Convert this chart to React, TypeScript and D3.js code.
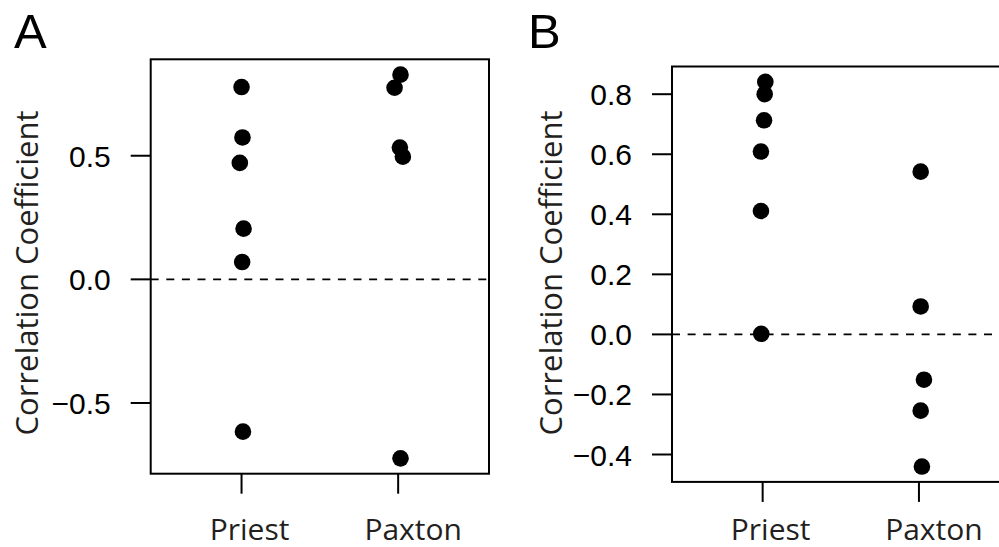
import React from "react";
import * as d3 from "d3";

const categories = ["Priest", "Paxton"];

// Panel A: correlation coefficients, x in category units (jittered as in the original)
const priestA = [0.778, 0.574, 0.471, 0.205, 0.07, -0.616];
const priestAX = [1.0, 1.006, 0.989, 1.013, 1.004, 1.009];
const paxtonA = [0.828, 0.775, 0.533, 0.496, -0.724];
const paxtonAX = [2.015, 1.977, 2.011, 2.03, 2.015];

// Panel B
const priestB = [0.841, 0.8, 0.713, 0.609, 0.411, 0.002];
const priestBX = [1.017, 1.013, 1.009, 0.989, 0.989, 0.991];
const paxtonB = [0.542, 0.093, -0.151, -0.254, -0.44];
const paxtonBX = [2.011, 2.011, 2.032, 2.011, 2.019];

const ticksA = [-0.5, 0, 0.5];
const ticksB = [-0.4, -0.2, 0, 0.2, 0.4, 0.6, 0.8];

const yTitle = "Correlation Coefficient";

const tickFont = "'Liberation Sans', Arial, sans-serif";
const labelFont = "'Open Sans', 'Noto Sans', sans-serif";

type Box = { left: number; right: number; top: number; bottom: number };

type PanelProps = {
  letter: string;
  letterX: number;
  titleX: number;
  box: Box;
  ticks: number[];
  groups: { xs: number[]; ys: number[] }[];
};

function Panel({ letter, letterX, titleX, box, ticks, groups }: PanelProps) {
  const all = groups.flatMap((g) => g.ys);
  const [lo, hi] = d3.extent(all) as [number, number];
  const pad = (hi - lo) * 0.04;
  const y = d3
    .scaleLinear()
    .domain([lo - pad, hi + pad])
    .range([box.bottom, box.top]);
  // R style x limits: 0.5..2.5 plus 4%
  const x = d3
    .scaleLinear()
    .domain([0.5 - 0.08, 2.5 + 0.08])
    .range([box.left, box.right]);
  const fmt = d3.format(".1f");
  const labelShift = [8, 15];

  return (
    <g>
      <text x={letterX} y={48.3} fontFamily={tickFont} fontSize={49}>
        {letter}
      </text>

      <line
        x1={box.left}
        x2={box.right}
        y1={y(0)}
        y2={y(0)}
        stroke="#000"
        strokeWidth={1.8}
        strokeDasharray="8,7.6"
      />

      {groups.map((g, gi) =>
        g.ys.map((v, i) => (
          <circle key={`${gi}-${i}`} cx={x(g.xs[i])} cy={y(v)} r={8.3} fill="#000" />
        ))
      )}

      <rect
        x={box.left}
        y={box.top}
        width={box.right - box.left}
        height={box.bottom - box.top}
        fill="none"
        stroke="#000"
        strokeWidth={2}
      />

      {ticks.map((t) => (
        <g key={t}>
          <line x1={box.left - 20} x2={box.left} y1={y(t)} y2={y(t)} stroke="#000" strokeWidth={2} />
          <text
            x={box.left - 40}
            y={y(t) + 11}
            textAnchor="end"
            fontFamily={tickFont}
            fontSize={30}
          >
            {fmt(t)}
          </text>
        </g>
      ))}

      {categories.map((c, i) => (
        <g key={c}>
          <line
            x1={x(i + 1)}
            x2={x(i + 1)}
            y1={box.bottom}
            y2={box.bottom + 20}
            stroke="#000"
            strokeWidth={2}
          />
          <text
            x={x(i + 1) + labelShift[i]}
            y={540}
            textAnchor="middle"
            fontFamily={labelFont}
            fontSize={30}
            fill="#231f20"
          >
            {c}
          </text>
        </g>
      ))}

      <text
        transform={`translate(${titleX},273) rotate(-90)`}
        textAnchor="middle"
        fontFamily={labelFont}
        fontSize={31}
        fill="#231f20"
      >
        {yTitle}
      </text>
    </g>
  );
}

export default function App() {
  return (
    <svg
      width={999}
      height={547}
      style={{ position: "absolute", left: 0, top: 0, background: "#fff" }}
    >
      <Panel
        letter="A"
        letterX={14}
        titleX={38.3}
        box={{ left: 150.7, right: 489, top: 59.3, bottom: 473.7 }}
        ticks={ticksA}
        groups={[
          { xs: priestAX, ys: priestA },
          { xs: paxtonAX, ys: paxtonA },
        ]}
      />
      <Panel
        letter="B"
        letterX={528}
        titleX={561.7}
        box={{ left: 672, right: 1009.6, top: 66.5, bottom: 481.9 }}
        ticks={ticksB}
        groups={[
          { xs: priestBX, ys: priestB },
          { xs: paxtonBX, ys: paxtonB },
        ]}
      />
    </svg>
  );
}
